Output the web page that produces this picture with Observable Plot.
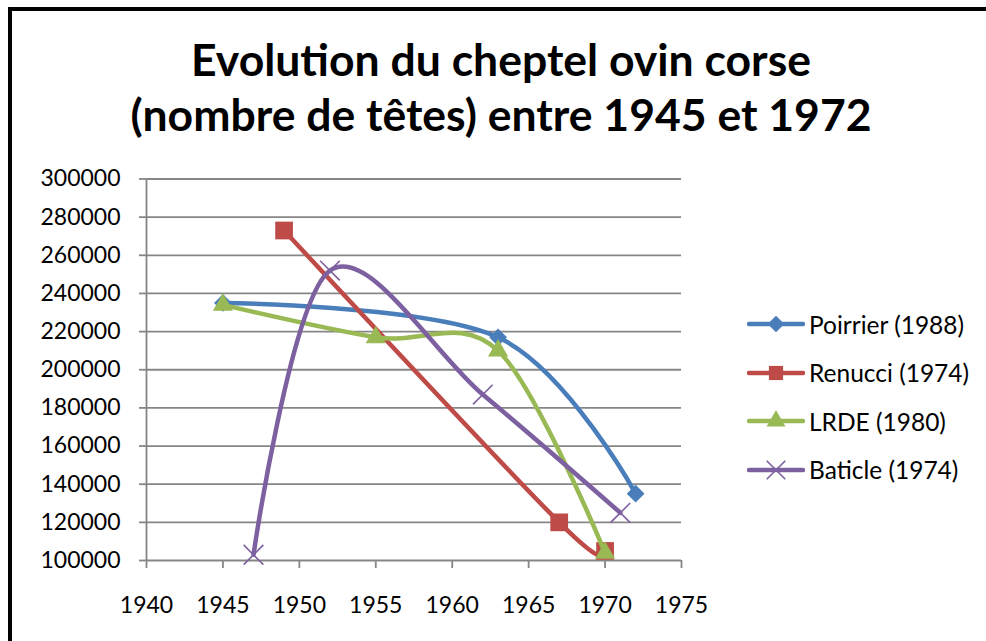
<!DOCTYPE html>
<html>
<head>
<meta charset="utf-8">
<script src="https://cdn.jsdelivr.net/npm/d3@7"></script>
<script src="https://cdn.jsdelivr.net/npm/@observablehq/plot@0.6"></script>
<style>
  html, body { margin: 0; padding: 0; background: #fff; overflow: hidden; }
  #wrap { position: relative; width: 986px; height: 641px; font-family: Lato, "Open Sans", sans-serif; }
  .bar { position: absolute; background: #000; }
  .title { position: absolute; left: 16px; width: 970px; text-align: center; font-weight: 700; font-size: 44.5px; line-height: 53px; color: #000; white-space: nowrap; }
  #chart { position: absolute; left: 0; top: 0; }
  #legend { position: absolute; left: 747px; top: 300px; }
  .row { height: 48.5px; display: flex; align-items: center; font-size: 24.5px; color: #000; white-space: nowrap; }
  .row svg { margin-right: 4px; }
</style>
</head>
<body>
<div id="wrap">
  <div id="chart"></div>
  <div class="bar" style="left:8px;top:7px;width:978px;height:4px"></div>
  <div class="bar" style="left:8px;top:7px;width:4px;height:634px"></div>
  <div class="title" style="top:32px">Evolution du cheptel ovin corse</div>
  <div class="title" style="top:87px">(nombre de têtes) entre 1945 et 1972</div>
  <div id="legend"></div>
</div>
<script>
// Series data (year, number of sheep)
const seriesNames = ["Poirrier (1988)", "Renucci (1974)", "LRDE (1980)", "Baticle (1974)"];
const poirrierYears = [1945, 1963, 1972];
const poirrierValues = [235000, 217000, 135000];
const renucciYears = [1949, 1967, 1970];
const renucciValues = [273000, 120000, 105000];
const lrdeYears = [1945, 1955, 1963, 1970];
const lrdeValues = [234000, 217000, 210000, 104000];
const baticleYears = [1947, 1952, 1962, 1971];
const baticleValues = [103000, 252000, 187000, 125000];
const xTicks = [1940, 1945, 1950, 1955, 1960, 1965, 1970, 1975];
const yTicks = [100000, 120000, 140000, 160000, 180000, 200000, 220000, 240000, 260000, 280000, 300000];

const colors = ["#4A7EBB", "#BE4B48", "#98B954", "#7D60A0"];
const symbols = ["diamond2", "square", "triangle", "times"];
const radii = [8, 10, 7.5, 9];
const years = [poirrierYears, renucciYears, lrdeYears, baticleYears];
const values = [poirrierValues, renucciValues, lrdeValues, baticleValues];

const series = seriesNames.map((name, i) =>
  years[i].map((yr, j) => ({name, year: yr, value: values[i][j]})));

const grid = "#868686";
const marks = [
  Plot.gridY(yTicks, {stroke: grid, strokeOpacity: 1, strokeWidth: 1.8}),
  Plot.ruleX([1940], {stroke: grid, strokeWidth: 1.8}),
  Plot.axisY(yTicks, {tickSize: 7, tickPadding: 19, tickFormat: d => String(d), stroke: grid, strokeWidth: 1.8, label: null, fontSize: 23}),
  Plot.axisX(xTicks, {tickSize: 8, tickPadding: 28, tickFormat: d => String(d), stroke: grid, strokeWidth: 1.8, label: null, fontSize: 23})
];
series.forEach((data, i) => {
  marks.push(Plot.line(data, {x: "year", y: "value", stroke: colors[i], strokeWidth: 4.5, curve: "cardinal", strokeLinecap: "round", strokeLinejoin: "round"}));
  if (symbols[i] === "times") {
    marks.push(Plot.dot(data, {x: "year", y: "value", symbol: "times", r: radii[i], stroke: colors[i], strokeWidth: 1.6}));
  } else {
    marks.push(Plot.dot(data, {x: "year", y: "value", symbol: symbols[i], r: radii[i], fill: colors[i], stroke: "none"}));
  }
});

const chart = Plot.plot({
  width: 986,
  height: 641,
  marginLeft: 146,
  marginRight: 305,
  marginTop: 178.5,
  marginBottom: 81,
  x: {domain: [1940, 1975]},
  y: {domain: [100000, 300000]},
  style: {fontFamily: "Lato, 'Open Sans', sans-serif", fontSize: "23px", color: "#000", background: "transparent", overflow: "visible"},
  marks
});
document.getElementById("chart").append(chart);

// Legend
const symbolTypes = {diamond2: d3.symbolDiamond2, square: d3.symbolSquare, triangle: d3.symbolTriangle, times: d3.symbolTimes};
const legendRadii = [7.5, 8, 7, 8.5];
const legend = document.getElementById("legend");
seriesNames.forEach((name, i) => {
  const row = document.createElement("div");
  row.className = "row";
  const size = Math.PI * legendRadii[i] * legendRadii[i];
  const path = d3.symbol(symbolTypes[symbols[i]], size)();
  const symAttr = symbols[i] === "times"
    ? `fill="none" stroke="${colors[i]}" stroke-width="1.6"`
    : `fill="${colors[i]}"`;
  row.innerHTML = `<svg width="58" height="24" viewBox="0 0 58 24">
    <line x1="2" y1="12" x2="56" y2="12" stroke="${colors[i]}" stroke-width="4.5" stroke-linecap="round"/>
    <path transform="translate(29,12)" d="${path}" ${symAttr}/>
  </svg><span>${name}</span>`;
  legend.append(row);
});
</script>
</body>
</html>
